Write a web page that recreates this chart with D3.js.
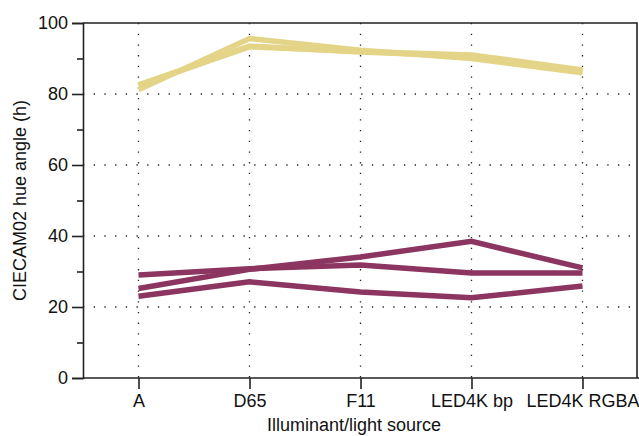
<!DOCTYPE html>
<html>
<head>
<meta charset="utf-8">
<script src="https://cdn.jsdelivr.net/npm/d3@7"></script>
<style>
  html, body { margin: 0; padding: 0; background: #fff; }
  svg text { font-family: "Liberation Sans", Arial, Helvetica, sans-serif; fill: #111; }
</style>
</head>
<body>
<svg id="chart" width="639" height="436"></svg>
<script>
// Light sources on the x axis
const categories = ["A", "D65", "F11", "LED4K bp", "LED4K RGBA"];

// CIECAM02 hue angle per sample under each light source
const yellowSeries = [
  [81.2, 95.6, 92.3, 90.0, 86.0],
  [82.6, 93.3, 92.0, 91.0, 86.8],
  [82.3, 93.5, 91.8, 90.6, 86.3]
];
const purpleSeries = [
  [29.0, 30.8, 31.8, 29.6, 29.6],
  [25.2, 30.6, 34.1, 38.5, 31.0],
  [23.0, 27.1, 24.2, 22.6, 25.9]
];

const yMajorTicks = [0, 20, 40, 60, 80, 100];
const yMinorTicks = [10, 30, 50, 70, 90];
const yGridValues = [20, 40, 60, 80];

const xLabel = "Illuminant/light source";
const yLabel = "CIECAM02 hue angle (h)";

const svg = d3.select("#chart");
const plot = { left: 83, right: 637, top: 23, bottom: 378 };

const x = d3.scalePoint().domain(categories).range([plot.left, 638]).padding(0.5);
const y = d3.scaleLinear().domain([0, 100]).range([plot.bottom, plot.top]);

// dotted grid
const grid = svg.append("g")
  .attr("stroke", "#222").attr("stroke-width", 1.3)
  .attr("stroke-dasharray", "1.3,9.4").attr("fill", "none");
grid.selectAll("line.h").data(yGridValues).join("line").attr("class", "h")
  .attr("x1", plot.left).attr("x2", 639)
  .attr("y1", d => y(d)).attr("y2", d => y(d));
grid.selectAll("line.v").data(categories).join("line").attr("class", "v")
  .attr("x1", d => x(d)).attr("x2", d => x(d))
  .attr("y1", plot.top).attr("y2", plot.bottom);

// series lines
const line = d3.line().x((d, i) => x(categories[i])).y(d => y(d));
const drawSeries = (data, color) => {
  svg.append("g").selectAll("path").data(data).join("path")
    .attr("d", line)
    .attr("fill", "none")
    .attr("stroke", color)
    .attr("stroke-width", 5.5)
    .attr("stroke-linejoin", "miter")
    .attr("stroke-linecap", "butt");
};
drawSeries(yellowSeries, "#e4d487");
drawSeries(purpleSeries, "#8b3560");

// frame
svg.append("path")
  .attr("d", `M${plot.left},${plot.top}H${plot.right}V${plot.bottom}`)
  .attr("fill", "none").attr("stroke", "#222").attr("stroke-width", 1.6);

// y axis
const yAxis = svg.append("g").attr("transform", `translate(${plot.left},0)`)
  .call(d3.axisLeft(y).tickValues(yMajorTicks).tickSize(11).tickPadding(4).tickFormat(d3.format("d")));
yAxis.call(g => g.select(".domain").attr("stroke", "#222").attr("stroke-width", 1.6));
yAxis.selectAll(".tick line").attr("stroke", "#222").attr("stroke-width", 1.6);
yAxis.selectAll(".tick text").attr("font-size", 18).attr("font-family", null).attr("fill", "#111");
const yMinor = svg.append("g").attr("transform", `translate(${plot.left},0)`)
  .call(d3.axisLeft(y).tickValues(yMinorTicks).tickSize(6).tickFormat(""));
yMinor.select(".domain").remove();
yMinor.selectAll(".tick line").attr("stroke", "#222").attr("stroke-width", 1.6);

// x axis
const xAxis = svg.append("g").attr("transform", `translate(0,${plot.bottom})`)
  .call(d3.axisBottom(x).tickSize(11).tickPadding(5).tickSizeOuter(0));
xAxis.select(".domain").attr("d", `M${plot.left},0H639`).attr("stroke", "#222").attr("stroke-width", 1.6);
xAxis.selectAll(".tick line").attr("stroke", "#222").attr("stroke-width", 1.6);
xAxis.selectAll(".tick text").attr("font-size", 18).attr("font-family", null).attr("fill", "#111");

// axis titles
svg.append("text")
  .attr("x", 354).attr("y", 431)
  .attr("text-anchor", "middle").attr("font-size", 18)
  .text(xLabel);
svg.append("text")
  .attr("transform", `translate(26,${(plot.top + plot.bottom) / 2}) rotate(-90)`)
  .attr("text-anchor", "middle").attr("font-size", 18)
  .text(yLabel);
</script>
</body>
</html>
